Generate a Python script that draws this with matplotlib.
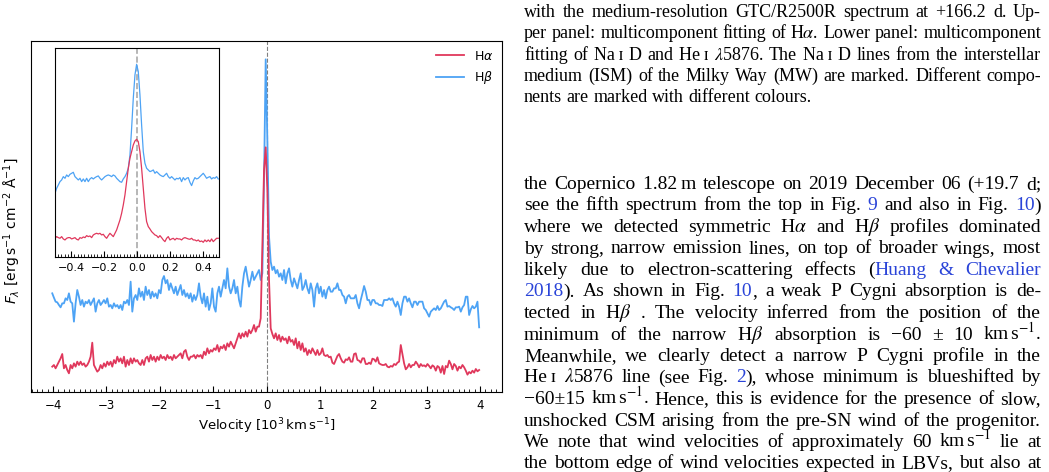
import re
import numpy as np
import matplotlib
matplotlib.use('Agg')
import matplotlib.pyplot as plt
from matplotlib.ticker import AutoMinorLocator, MultipleLocator

# spectra in velocity space (flux in arbitrary units, offset for display)
halpha_flux = [
    7.6, 8.1, 7.1, 8.1, 9.1, 10.1, 11.4, 7.1, 8.1, 6.6,
    5.6, 8.1, 7.1, 8.6, 7.6, 9.1, 8.1, 9.1, 8.1, 8.6,
    7.6, 8.1, 9.1, 10.6, 14.8, 8.1, 7.1, 6.1, 6.6, 8.1,
    7.1, 8.6, 7.6, 9.1, 8.1, 9.1, 7.6, 9.6, 8.6, 10.6,
    9.1, 10.1, 8.6, 10.6, 7.6, 9.6, 8.1, 10.1, 8.6, 10.1,
    9.1, 9.6, 8.6, 8.1, 9.6, 8.1, 10.1, 10.6, 9.1, 11.1,
    9.6, 10.6, 9.1, 10.6, 9.6, 11.1, 10.1, 10.6, 9.6, 11.1,
    10.1, 10.6, 9.6, 11.1, 10.1, 10.6, 11.1, 11.6, 10.1, 12.1,
    12.6, 10.6, 9.6, 10.6, 10.6, 11.1, 10.1, 11.1, 10.6,
    11.1, 10.1, 12.1, 11.1, 13.1, 11.6, 12.6, 12.1, 13.1, 12.6,
    14.1, 12.1, 13.6, 13.1, 14.1, 12.6, 14.6, 13.6, 15.1, 14.1,
    13.1, 14.6, 16.1, 17.6, 16.1, 17.6, 16.6, 18.1, 16.6, 18.6,
    17.6, 18.6, 20.1, 18.1, 19.6, 19.6, 22.1, 43.6, 66.6, 73.4,
    60.6, 33.6, 19.1, 17.4, 16.1, 17.6, 15.6, 17.1, 15.1, 16.6,
    15.6, 16.1, 14.6, 16.6, 15.1, 15.6, 14.1, 16.1, 13.1, 15.1,
    12.6, 14.6, 12.1, 13.1, 11.1, 12.6, 11.6, 13.1, 12.1, 11.1,
    12.6, 11.1, 11.6, 13.1, 11.1,
    10.8, 11.1, 10.4, 10.6, 8.8, 8.4, 9.6, 10.8, 11.4, 10.1,
    9.1, 8.8, 9.8, 9.6, 10.4, 9.1, 9.1, 11.4, 11.6, 9.6,
    9.4, 8.8, 10.1, 10.1, 8.4, 8.4, 8.8, 8.4, 10.0, 9.8,
    9.1, 10.4, 8.6, 8.3, 8.1, 8.1, 8.4, 7.6, 7.4, 7.8,
    7.6, 8.4, 8.1, 8.8, 9.1, 14.1, 11.4, 8.6, 6.8, 7.4,
    8.4, 7.4, 8.1, 8.1, 9.1, 8.4, 7.4, 8.4, 7.8, 8.0,
    7.6, 8.4, 7.8, 7.1, 8.0, 7.6, 6.4, 7.8, 7.4, 5.8,
    7.8, 5.4, 7.8, 7.4, 9.4, 8.4, 6.8, 8.4, 7.8, 6.4,
    7.6, 7.1, 8.1, 7.4, 6.4, 5.2, 6.0, 5.6, 6.4, 5.8,
    6.9, 6.2, 6.6,
]
hbeta_flux = [
    29.6, 28.3, 27.1, 26.9, 26.1, 25.4, 26.6, 26.6, 28.1, 27.6,
    29.6, 27.1, 26.6, 21.1, 26.6, 30.6, 28.6, 26.1, 27.6, 25.6,
    27.1, 26.6, 27.6, 26.1, 27.1, 28.1, 24.1, 26.6, 27.6, 26.1,
    26.8, 27.6, 26.6, 28.1, 25.6, 26.1, 25.1, 26.6, 25.6, 26.1,
    25.1, 26.1, 24.6, 27.1, 26.6, 27.6, 26.1, 33.1, 24.1, 28.1,
    29.1, 27.6, 31.1, 28.6, 30.1, 27.6, 31.6, 29.1, 30.6, 28.1,
    30.1, 28.6, 29.6, 28.1, 30.6, 29.6, 33.6, 34.8, 32.6, 33.6,
    30.6, 32.6, 31.1, 29.6, 31.6, 29.1, 30.6, 32.1, 29.1, 30.6,
    28.6, 29.6, 28.1, 29.6, 27.1, 29.1, 27.6, 29.1, 32.6,
    28.6, 26.6, 29.6, 25.6, 28.6, 24.6, 26.6, 31.1, 25.6, 24.1,
    29.6, 31.6, 28.6, 31.1, 33.6, 31.1, 37.1, 31.6, 29.6, 31.1,
    33.6, 29.6, 31.6, 27.6, 25.6, 31.6, 35.6, 37.6, 34.6, 31.6,
    33.6, 36.1, 33.6, 34.6, 35.6, 36.6, 33.6, 35.6, 63.6, 99.8,
    75.6, 46.6, 39.1, 36.6, 37.6, 35.6, 36.6, 34.6, 35.6, 33.6,
    36.6, 32.6, 35.6, 37.1, 33.6, 31.6, 34.1, 32.6, 31.1, 33.6,
    35.6, 30.6, 31.6, 33.6, 31.1, 29.6, 32.6, 30.6, 25.6, 31.1,
    32.6, 29.6, 31.6, 28.6, 30.6,
    28.1, 30.6, 31.6, 30.1, 30.1, 31.1, 31.1, 32.6, 30.6, 30.6,
    29.1, 28.6, 26.6, 28.6, 29.1, 28.1, 28.1, 28.1, 29.1, 26.6,
    25.1, 27.6, 29.6, 31.8, 30.1, 27.6, 27.6, 26.1, 27.6, 27.6,
    26.6, 26.6, 26.1, 26.1, 25.8, 27.6, 27.6, 27.6, 28.1, 27.6,
    28.1, 26.6, 25.6, 27.1, 25.6, 23.1, 26.6, 28.6, 28.6, 27.1,
    28.1, 26.6, 25.4, 27.1, 27.1, 26.1, 27.1, 27.1, 27.1, 25.1,
    24.6, 23.6, 22.6, 24.1, 24.6, 25.1, 24.6, 25.8, 24.6, 25.1,
    26.1, 27.1, 27.6, 25.6, 25.8, 25.4, 25.1, 24.6, 25.4, 25.4,
    25.6, 24.1, 25.4, 26.1, 28.6, 28.6, 23.1, 24.8, 25.8, 25.1,
    25.6, 27.1, 19.4,
]
velocity = np.linspace(-4.013, 3.981, len(hbeta_flux))

# zoom on the narrow component (inset)
halpha_zoom = [
    5.7, 6.2, 5.9, 5.7, 6.2, 5.5, 5.2, 5.7, 5.9, 5.9,
    5.5, 5.7, 5.9, 5.4, 5.2, 5.9, 5.7, 6.1, 5.9, 6.5,
    6.2, 6.4, 5.9, 6.7, 7.0, 7.2, 7.0, 7.2, 6.7, 6.9,
    6.2, 5.7, 6.5, 7.2, 6.7, 6.2, 7.2, 8.2, 9.7, 11.2,
    13.2, 15.7, 18.7, 22.7, 26.7, 29.7, 31.7, 33.7, 34.9, 35.4,
    34.7, 31.7, 26.7, 20.7, 14.7, 10.7, 9.2, 8.5, 7.7, 7.2,
    6.7, 6.5, 5.9, 6.5, 5.9, 5.2, 4.7, 5.7, 6.2, 5.2,
    5.5, 5.7, 5.2, 5.7, 5.5, 5.5, 5.2, 5.7, 5.9, 5.7,
    5.5, 5.4, 5.7, 5.2, 5.2, 4.9, 5.2, 4.7, 4.9, 4.5,
    5.2, 4.7, 5.2, 4.7, 5.5, 4.7, 5.2, 5.7, 5.7,
]
hbeta_zoom = [
    19.2, 20.7, 21.7, 22.7, 23.2, 24.2, 23.7, 24.7, 24.2, 24.9,
    25.2, 25.5, 24.2, 23.7, 23.2, 23.7, 22.7, 23.5, 22.7, 23.7,
    22.7, 23.5, 23.9, 23.5, 23.9, 24.2, 24.4, 23.7, 23.2, 23.7,
    24.2, 24.5, 24.7, 24.5, 24.2, 24.7, 24.4, 23.7, 23.2, 22.7,
    22.5, 23.5, 24.2, 25.2, 26.7, 30.7, 38.7, 47.7, 54.7, 57.9,
    55.7, 48.7, 39.7, 31.7, 28.2, 26.7, 26.2, 25.7, 25.9, 26.2,
    25.2, 25.7, 25.2, 24.7, 24.4, 24.2, 24.7, 25.2, 24.2, 23.7,
    24.2, 23.7, 23.2, 23.7, 23.5, 23.9, 22.7, 23.9, 23.2, 23.7,
    23.9, 22.5, 21.5, 22.9, 23.9, 23.5, 23.7, 24.2, 24.7, 25.2,
    24.5, 23.7, 24.0, 24.2, 23.5, 23.9, 23.7, 24.2, 23.5,
]
velocity_zoom = np.linspace(-0.498, 0.494, len(hbeta_zoom))

red = '#e0385c'
blue = '#4da3f5'

W, H = 1049, 472
fig = plt.figure(figsize=(W / 100, H / 100), dpi=100)

ax = fig.add_axes([0.0296, 0.1695, 0.449, 0.7436])
ax.plot(velocity, hbeta_flux, color=blue, lw=1.3, label=r'H$\beta$', zorder=2)
ax.plot(velocity, halpha_flux, color=red, lw=1.3, label=r'H$\alpha$', zorder=3)
ax.axvline(0, color='gray', ls='--', lw=0.8, zorder=1)
ax.set_xlim(-4.41, 4.41)
ax.set_ylim(0, 105.3)
ax.set_yticks([])
ax.xaxis.set_major_locator(MultipleLocator(1))
ax.xaxis.set_minor_locator(AutoMinorLocator(10))
ax.tick_params(axis='x', which='both', direction='in', labelsize=8.5)
ax.tick_params(axis='x', which='major', length=4, pad=5)
ax.tick_params(axis='x', which='minor', length=2)
ax.set_xlabel(r'Velocity [$10^3\,\mathrm{km\,s^{-1}}$]', fontsize=9.5, labelpad=3)
ax.set_ylabel(r'$F_{\lambda}$ [erg$\,$s$^{-1}$ cm$^{-2}$ Å$^{-1}$]', fontsize=10)
ax.yaxis.set_label_coords(-0.017, 0.46)
h, l = ax.get_legend_handles_labels()
ax.legend(h[::-1], l[::-1], loc='upper right', frameon=False, fontsize=9,
          handlelength=2.2, borderaxespad=0.3)

ins = fig.add_axes([0.0521, 0.4549, 0.1569, 0.4428])
ins.plot(velocity_zoom, hbeta_zoom, color=blue, lw=0.9)
ins.plot(velocity_zoom, halpha_zoom, color=red, lw=0.9)
ins.axvline(0, color='#aaaaaa', ls='--', lw=1.2, zorder=0)
ins.set_xlim(-0.5, 0.5)
ins.set_ylim(0, 62.7)
ins.set_yticks([])
ins.xaxis.set_major_locator(MultipleLocator(0.2))
ins.xaxis.set_minor_locator(AutoMinorLocator(10))
ins.tick_params(axis='x', which='both', direction='in', labelsize=8)
ins.tick_params(axis='x', which='major', length=4, pad=4)
ins.tick_params(axis='x', which='minor', length=2)

# surrounding page text
caption = [
    "with the medium-resolution GTC/R2500R spectrum at +166.2 d. Up-",
    "per panel: multicomponent fitting of H$\\alpha$. Lower panel: multicomponent",
    "fitting of Na\u2009\u026a D and He\u2009\u026a $\\lambda$5876. The Na\u2009\u026a D lines from the interstellar",
    "medium (ISM) of the Milky Way (MW) are marked. Different compo-",
    "nents are marked with different colours.",
]
body = [
    "the Copernico 1.82\u2009m telescope on 2019 December 06 (+19.7 d;",
    "see the fifth spectrum from the top in Fig. {b:9} and also in Fig. {b:10})",
    "where we detected symmetric H$\\alpha$ and H$\\beta$ profiles dominated",
    "by strong, narrow emission lines, on top of broader wings, most",
    "likely due to electron-scattering effects ({b:Huang} {b:&} {b:Chevalier}",
    "{b:2018}). As shown in Fig. {b:10}, a weak P Cygni absorption is de-",
    "tected in H$\\beta$ . The velocity inferred from the position of the",
    "minimum of the narrow H$\\beta$ absorption is \u221260 \u00b1 10 km$\\,$s$^{-1}$.",
    "Meanwhile, we clearly detect a narrow P Cygni profile in the",
    "He\u2009\u026a $\\lambda$5876 line (see Fig. {b:2}), whose minimum is blueshifted by",
    "\u221260\u00b115 km$\\,$s$^{-1}$. Hence, this is evidence for the presence of slow,",
    "unshocked CSM arising from the pre-SN wind of the progenitor.",
    "We note that wind velocities of approximately 60 km$\\,$s$^{-1}$ lie at",
    "the bottom edge of wind velocities expected in LBVs, but also at",
]
link = '#2a44d8'
serif = ['Liberation Serif', 'DejaVu Serif']
x_left, x_right = 524, 1041
renderer = fig.canvas.get_renderer()


def put_line(line, y_px, size, justify):
    words = []
    for w in line.split(' '):
        pieces = []
        for part in re.split(r'(\{b:[^}]*\})', w):
            if part == '':
                continue
            if part.startswith('{b:'):
                pieces.append((part[3:-1], link))
            else:
                pieces.append((part, 'black'))
        words.append(pieces)
    objs = []
    widths = []
    for pieces in words:
        wobjs = []
        for s, c in pieces:
            t = fig.text(0, 1 - y_px / H, s, fontsize=size, color=c, family=serif,
                         math_fontfamily='stix', va='baseline')
            wobjs.append((t, t.get_window_extent(renderer).width))
        objs.append(wobjs)
        widths.append(sum(wd for _, wd in wobjs))
    if justify:
        gap = (x_right - x_left - sum(widths)) / (len(words) - 1)
    else:
        gap = size * 100 / 72 * 0.25
    x = x_left
    for wobjs in objs:
        for t, wd in wobjs:
            t.set_x(x / W)
            x += wd
        x += gap


for i, line in enumerate(caption):
    put_line(line, 17 + i * 21.3, 13, i < len(caption) - 1)
for i, line in enumerate(body):
    put_line(line, 189 + i * 21.5, 14, True)

fig.savefig('out.png', dpi=100)
